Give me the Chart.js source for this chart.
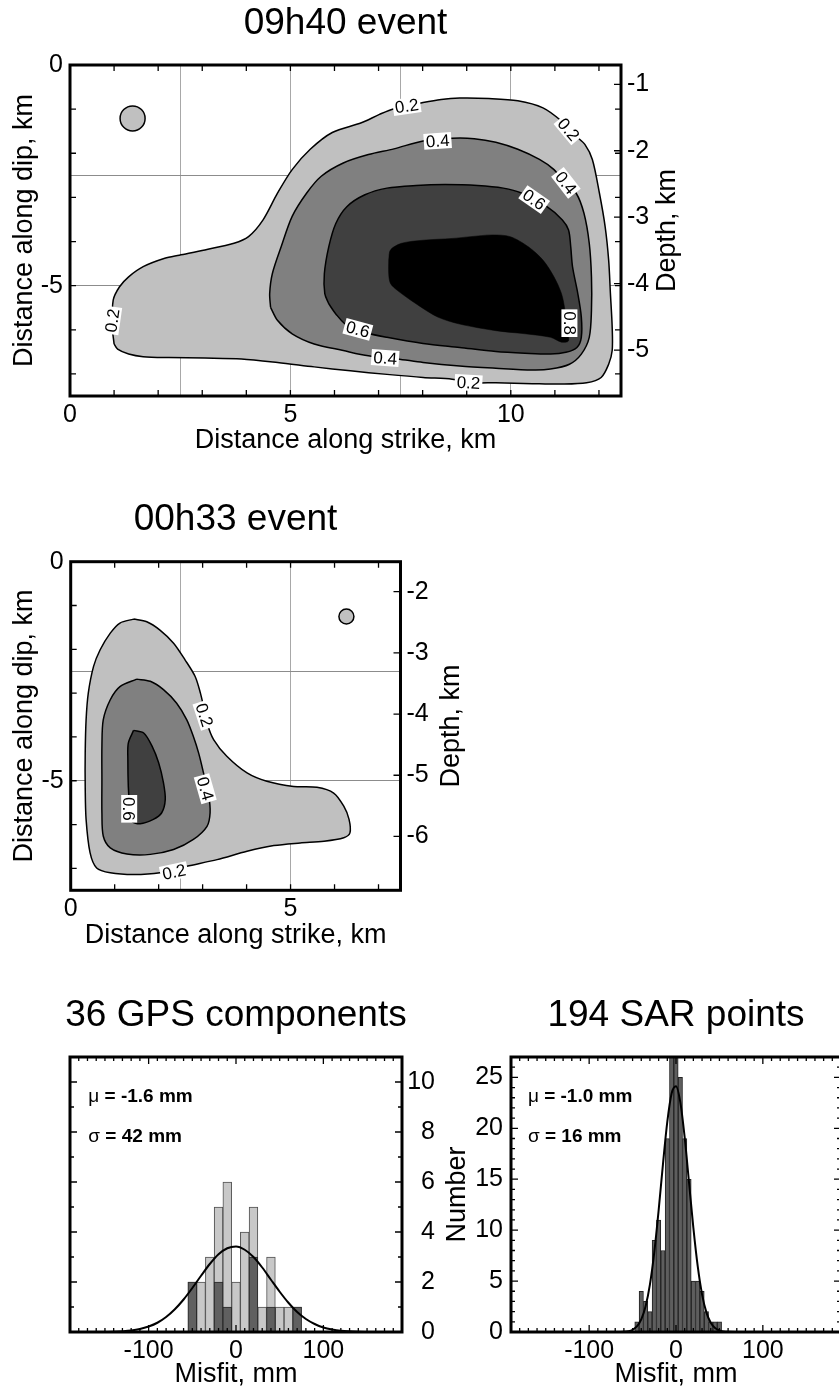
<!DOCTYPE html>
<html>
<head>
<meta charset="utf-8">
<title>Slip distribution and misfit</title>
<script src="https://cdn.jsdelivr.net/npm/chart.js@4.4.1/dist/chart.umd.min.js"></script>
<style>
  html, body { margin: 0; padding: 0; background: #fff; overflow: hidden; }
  #page { position: relative; width: 839px; height: 1391px; }
  canvas { position: absolute; }
</style>
</head>
<body>
<div id="page">
  <canvas id="ev0940" width="691" height="470" style="left:0;top:0"></canvas>
  <canvas id="ev0033" width="471" height="490" style="left:0;top:480px"></canvas>
  <canvas id="gps" width="435" height="431" style="left:0;top:960px"></canvas>
  <canvas id="sar" width="512" height="431" style="left:420px;top:960px"></canvas>
</div>
<script>
// ---- 09h40 event: slip contours on the fault plane, [km along strike, km along dip]
const ev0940Slip02 = [
  [1.00, -6.32], [0.96, -5.94], [0.98, -5.33], [1.12, -5.03], [1.33, -4.80], [1.66, -4.57],
  [2.15, -4.38], [2.48, -4.31], [3.06, -4.19], [3.72, -4.04], [4.05, -3.89], [4.38, -3.51],
  [4.71, -2.90], [5.04, -2.37], [5.45, -1.91], [5.95, -1.53], [6.61, -1.31], [7.02, -1.12],
  [7.35, -0.99], [8.01, -0.85], [8.42, -0.78], [8.84, -0.75], [9.50, -0.76], [10.16, -0.81],
  [10.73, -0.97], [11.15, -1.27], [11.48, -1.61], [11.68, -1.80], [11.85, -2.14], [12.01, -2.90],
  [12.14, -3.66], [12.22, -4.42], [12.26, -5.18], [12.30, -5.94], [12.30, -6.47], [12.22, -6.78],
  [12.05, -7.08], [11.72, -7.20], [11.15, -7.23], [10.49, -7.22], [9.66, -7.20], [9.17, -7.20],
  [8.67, -7.12], [8.01, -7.08], [7.19, -7.01], [6.36, -6.93], [5.54, -6.84], [4.71, -6.74],
  [3.89, -6.66], [3.06, -6.64], [2.24, -6.63], [1.66, -6.61], [1.33, -6.55], [1.08, -6.44]
];
const ev0940Slip04 = [
  [4.55, -5.49], [4.53, -5.18], [4.59, -4.73], [4.79, -4.12], [5.04, -3.43], [5.37, -2.90],
  [5.70, -2.52], [6.20, -2.22], [6.77, -2.03], [7.35, -1.90], [8.01, -1.72], [8.67, -1.66],
  [9.17, -1.67], [9.66, -1.75], [10.16, -1.91], [10.65, -2.14], [10.98, -2.37], [11.23, -2.67],
  [11.48, -2.90], [11.66, -3.36], [11.78, -4.04], [11.83, -4.80], [11.83, -5.56], [11.78, -6.17],
  [11.60, -6.55], [11.33, -6.78], [10.90, -6.89], [10.49, -6.91], [9.66, -6.87], [8.84, -6.82],
  [8.01, -6.74], [7.43, -6.66], [6.77, -6.59], [6.20, -6.47], [5.54, -6.32], [5.04, -6.09],
  [4.71, -5.79]
];
const ev0940Slip06 = [
  [5.87, -5.41], [5.78, -5.18], [5.77, -4.73], [5.87, -4.12], [6.03, -3.59], [6.28, -3.21],
  [6.69, -2.94], [7.19, -2.79], [7.85, -2.73], [8.51, -2.71], [9.25, -2.73], [9.83, -2.79],
  [10.24, -2.90], [10.82, -3.21], [11.17, -3.51], [11.31, -3.74], [11.36, -4.12], [11.40, -4.57],
  [11.52, -5.18], [11.60, -5.71], [11.60, -6.17], [11.50, -6.40], [11.25, -6.51], [10.90, -6.55],
  [10.32, -6.53], [9.66, -6.49], [8.84, -6.40], [8.01, -6.31], [7.19, -6.17], [6.69, -6.06],
  [6.28, -5.90], [6.03, -5.64]
];
const ev0940Slip08 = [
  [7.23, -4.42], [7.27, -4.19], [7.52, -4.04], [8.01, -3.97], [8.67, -3.93], [9.08, -3.89],
  [9.58, -3.85], [9.99, -3.89], [10.40, -4.12], [10.73, -4.42], [10.98, -4.80], [11.15, -5.18],
  [11.23, -5.56], [11.27, -5.94], [11.31, -6.25], [11.15, -6.28], [10.90, -6.17], [10.32, -6.09],
  [9.66, -6.02], [8.84, -5.87], [8.34, -5.71], [7.85, -5.41], [7.43, -5.11], [7.27, -4.95],
  [7.23, -4.73]
];
const ev0940Spot = [[1.42, -1.21]];
const ev0940DepthRange = [-5.69, -0.71];   // depth at the lower and upper edge of the plane

// ---- 00h33 event
const ev0033Slip02 = [
  [1.43, -1.31], [1.73, -1.37], [2.03, -1.56], [2.34, -1.86], [2.60, -2.24], [2.83, -2.62],
  [2.95, -3.00], [3.02, -3.30], [3.10, -3.68], [3.25, -4.06], [3.55, -4.44], [4.01, -4.82],
  [4.46, -5.01], [5.07, -5.13], [5.60, -5.15], [5.98, -5.28], [6.21, -5.58], [6.33, -5.88],
  [6.35, -6.19], [6.21, -6.30], [5.76, -6.38], [5.22, -6.42], [4.62, -6.48], [4.01, -6.61],
  [3.33, -6.80], [2.64, -6.95], [2.03, -7.10], [1.43, -7.14], [0.90, -7.10], [0.59, -6.99],
  [0.44, -6.64], [0.35, -5.88], [0.33, -5.13], [0.33, -4.37], [0.35, -3.61], [0.40, -3.00],
  [0.52, -2.39], [0.67, -2.01], [0.90, -1.63], [1.12, -1.40]
];
const ev0033Slip04 = [
  [1.50, -2.68], [1.81, -2.73], [2.11, -2.92], [2.41, -3.23], [2.64, -3.61], [2.79, -3.99],
  [2.91, -4.37], [3.02, -4.82], [3.14, -5.35], [3.17, -5.73], [3.10, -6.04], [2.79, -6.34],
  [2.34, -6.57], [1.81, -6.68], [1.28, -6.67], [0.90, -6.53], [0.74, -6.26], [0.71, -5.73],
  [0.71, -4.97], [0.71, -4.21], [0.74, -3.61], [0.90, -3.15], [1.12, -2.85]
];
const ev0033Slip06 = [
  [1.43, -3.85], [1.66, -3.91], [1.85, -4.21], [2.00, -4.59], [2.11, -5.05], [2.15, -5.43],
  [2.07, -5.73], [1.88, -5.88], [1.58, -5.98], [1.39, -5.92], [1.34, -5.58], [1.31, -5.13],
  [1.30, -4.52], [1.31, -4.14]
];
const ev0033Spot = [[6.27, -1.25]];
const ev0033DepthRange = [-6.88, -1.51];

const strikeTickLabels = [0, 5, 10];
const dipTickLabels = [0, -5];

// ---- misfit histograms
const gpsBins = [-50, -40, -30, -20, -10, 0, 10, 20, 30, 40, 50, 60, 70];
const gpsAll = [2, 2, 3, 5, 6, 2, 4, 5, 1, 3, 1, 1, 1];
const gpsVertical = [2, 0, 0, 2, 1, 0, 0, 3, 0, 1, 0, 0, 1];
const gpsFitX = [-190, -160, -140, -120, -110, -100, -90, -80, -70, -60, -50, -40, -30, -20, -10,
  0, 10, 20, 30, 40, 50, 60, 70, 80, 90, 100, 110, 120, 140, 160, 190];
const gpsFitY = [0, 0.003, 0.015, 0.064, 0.12, 0.22, 0.37, 0.60, 0.91, 1.30, 1.76, 2.25, 2.72, 3.11, 3.35,
  3.42, 3.29, 3.00, 2.58, 2.09, 1.61, 1.17, 0.80, 0.52, 0.32, 0.18, 0.10, 0.052, 0.012, 0.002, 0];
const gpsMean = -1.6, gpsSigma = 42;

const sarBins = [-45, -40, -35, -30, -25, -20, -15, -10, -5, 0, 5, 10, 15, 20, 25, 30, 35, 40, 45, 50];
const sarCounts = [1, 4, 3, 2, 9, 11, 8, 19, 30, 29, 25, 19, 15, 5, 5, 4, 2, 1, 1, 1];
const sarFitX = [-190, -80, -70, -60, -55, -50, -45, -40, -35, -30, -25, -20, -15, -10, -5,
  0, 5, 10, 15, 20, 25, 30, 35, 40, 45, 50, 55, 60, 70, 80, 190];
const sarFitY = [0, 0, 0.002, 0.027, 0.081, 0.22, 0.55, 1.24, 2.53, 4.68, 7.85, 11.95, 16.49, 20.65, 23.45,
  24.14, 22.55, 19.10, 14.67, 10.22, 6.46, 3.70, 1.93, 0.91, 0.39, 0.15, 0.053, 0.017, 0.002, 0, 0];
const sarMean = -1.0, sarSigma = 16;

const FONT = '"Liberation Sans", Arial, Helvetica, sans-serif';
Chart.defaults.font.family = FONT;
Chart.defaults.color = '#000';
Chart.defaults.animation = false;
Chart.defaults.plugins.legend.display = false;
Chart.defaults.plugins.tooltip.enabled = false;

const toXY = pts => pts.map(([x, y]) => ({x, y}));
const ring = pts => toXY(pts.concat([pts[0]]));
const zip = (xs, ys) => xs.map((x, i) => ({x, y: ys[i]}));

// thick frame with inward tick marks on every side
function frameTicks(cfg) {
  return {
    id: 'frameTicks',
    afterDraw(chart) {
      const {ctx, chartArea: a, scales} = chart;
      const marks = (scale, step, major, len, lenMajor, draw) => {
        const first = Math.ceil(scale.min / step - 1e-9);
        for (let i = first; i * step <= scale.max + 1e-9; i++) {
          const v = i * step;
          const isMajor = major && Math.abs(v / major - Math.round(v / major)) < 1e-6;
          draw(scale.getPixelForValue(v), isMajor ? lenMajor : len);
        }
      };
      ctx.save();
      ctx.strokeStyle = '#000';
      ctx.lineWidth = 1.3;
      ctx.beginPath();
      marks(scales.x, cfg.xStep, cfg.xMajor, cfg.len, cfg.lenMajor, (p, l) => {
        ctx.moveTo(p, a.bottom); ctx.lineTo(p, a.bottom - l);
        ctx.moveTo(p, a.top); ctx.lineTo(p, a.top + l);
      });
      marks(scales.y, cfg.yStep, cfg.yMajor, cfg.len, cfg.lenMajor, (p, l) => {
        ctx.moveTo(a.left, p); ctx.lineTo(a.left + l, p);
        if (cfg.mirrorY) { ctx.moveTo(a.right, p); ctx.lineTo(a.right - l, p); }
      });
      if (cfg.depthTicks) {
        marks(scales.y2, 1, 0, 7, 7, p => { ctx.moveTo(a.right, p); ctx.lineTo(a.right - 7, p); });
      }
      ctx.stroke();
      ctx.lineWidth = 3;
      ctx.strokeRect(a.left, a.top, a.right - a.left, a.bottom - a.top);
      ctx.restore();
    }
  };
}

// rotated title for the depth axis, reading bottom to top
function sideTitle(text, gap) {
  return {
    id: 'sideTitle',
    afterDraw(chart) {
      const {ctx, chartArea: a} = chart;
      ctx.save();
      ctx.translate(a.right + gap, (a.top + a.bottom) / 2);
      ctx.rotate(-Math.PI / 2);
      ctx.font = '27px ' + FONT;
      ctx.fillStyle = '#000';
      ctx.textAlign = 'center';
      ctx.textBaseline = 'middle';
      ctx.fillText(text, 0, 0);
      ctx.restore();
    }
  };
}

// contour level labels on white boxes
function contourLabels(items) {
  return {
    id: 'contourLabels',
    afterDraw(chart) {
      const {ctx, scales: {x, y}} = chart;
      ctx.save();
      ctx.font = '17px ' + FONT;
      ctx.textAlign = 'center';
      ctx.textBaseline = 'middle';
      for (const [text, vx, vy, deg] of items) {
        const w = ctx.measureText(text).width + 4;
        ctx.save();
        ctx.translate(x.getPixelForValue(vx), y.getPixelForValue(vy));
        ctx.rotate(deg * Math.PI / 180);
        ctx.fillStyle = '#fff';
        ctx.fillRect(-w / 2, -8, w, 16);
        ctx.fillStyle = '#000';
        ctx.fillText(text, 0, 1);
        ctx.restore();
      }
      ctx.restore();
    }
  };
}

// mean and standard deviation printed inside the histogram
function statsText(mean, sigma, at) {
  return {
    id: 'statsText',
    afterDraw(chart) {
      const {ctx, scales: {x, y}} = chart;
      const rows = [['\u03bc', ' = ' + mean.toFixed(1) + ' mm', at[1]], ['\u03c3', ' = ' + sigma + ' mm', at[2]]];
      ctx.save();
      ctx.fillStyle = '#000';
      ctx.textAlign = 'left';
      ctx.textBaseline = 'middle';
      for (const [sym, rest, vy] of rows) {
        const px = x.getPixelForValue(at[0]), py = y.getPixelForValue(vy);
        ctx.font = '19px ' + FONT;
        ctx.fillText(sym, px, py);
        const w = ctx.measureText(sym).width;
        ctx.font = 'bold 19px ' + FONT;
        ctx.fillText(rest, px + w, py);
      }
      ctx.restore();
    }
  };
}

function slipMap(canvasId, o) {
  const shades = ['#c0c0c0', '#808080', '#404040', '#000000'];
  const datasets = o.levels.map((pts, i) => ({
    data: ring(pts),
    showLine: true,
    fill: 'shape',
    backgroundColor: shades[i],
    borderColor: '#000',
    borderWidth: i === 3 ? 0.5 : 1.5,
    pointRadius: 0,
    tension: 0.3,
    order: 10 - i
  }));
  datasets.push({
    data: toXY(o.spot),
    showLine: false,
    pointRadius: o.spotRadius,
    pointBackgroundColor: '#c0c0c0',
    pointBorderColor: '#000',
    pointBorderWidth: 1.5,
    order: 0
  });

  return new Chart(document.getElementById(canvasId), {
    type: 'scatter',
    data: {datasets},
    options: {
      responsive: false,
      layout: {padding: 0},
      plugins: {
        title: {display: true, text: o.title, font: {size: 37, weight: 'normal'}, padding: o.titlePad}
      },
      scales: {
        x: {
          type: 'linear', min: 0, max: o.xMax, z: 1,
          ticks: {stepSize: 2.5, autoSkip: false, maxRotation: 0, padding: 4, font: {size: 25},
                  callback: v => strikeTickLabels.includes(v) ? v : ''},
          grid: {color: '#a8a8a8', lineWidth: 1, drawTicks: false},
          border: {display: false},
          title: {display: true, text: 'Distance along strike, km', font: {size: 27},
                  padding: {top: 0, bottom: o.xTitlePad}},
          afterFit: s => { s.height = o.bottomH; }
        },
        y: {
          type: 'linear', position: 'left', min: -7.5, max: 0, z: 1,
          ticks: {stepSize: 2.5, autoSkip: false, padding: 7, font: {size: 25},
                  callback: v => dipTickLabels.includes(v) ? v : ''},
          grid: {color: '#8c8c8c', lineWidth: 1, drawTicks: false},
          border: {display: false},
          title: {display: true, text: 'Distance along dip, km', font: {size: 27}, padding: {top: 8.8, bottom: 0}},
          afterFit: s => { s.width = o.leftW; }
        },
        y2: {
          type: 'linear', position: 'right', min: o.depth[0], max: o.depth[1],
          ticks: {stepSize: 1, includeBounds: false, autoSkip: false, padding: 6, font: {size: 25}},
          grid: {display: false, drawTicks: false},
          border: {display: false},
          afterFit: s => { s.width = o.rightW; }
        }
      }
    },
    plugins: [
      frameTicks({xStep: 1, yStep: 1, len: 6, lenMajor: 6, mirrorY: o.mirrorY, depthTicks: true}),
      sideTitle('Depth, km', o.depthGap),
      contourLabels(o.labels)
    ]
  });
}

function misfitHist(canvasId, o) {
  const barStyle = {type: 'bar', borderWidth: 1, borderSkipped: false, grouped: false,
                    barPercentage: 1, categoryPercentage: 1};
  const datasets = [
    {type: 'line', data: zip(o.fitX, o.fitY), borderColor: '#000', borderWidth: 2, pointRadius: 0,
     cubicInterpolationMode: 'monotone', fill: false, order: 0}
  ];
  o.series.forEach((s, i) => datasets.push(Object.assign({}, barStyle, {
    data: zip(o.bins, s.counts), backgroundColor: s.color, borderColor: s.edge, order: i + 1
  })));

  return new Chart(document.getElementById(canvasId), {
    type: 'bar',
    data: {datasets},
    options: {
      responsive: false,
      layout: {padding: {left: o.padLeft, right: 0, top: 0, bottom: 0}},
      plugins: {
        title: {display: true, text: o.title, font: {size: 37, weight: 'normal'}, padding: {top: 33.8, bottom: 18.8}}
      },
      scales: {
        x: {
          type: 'linear', min: -190, max: 190, offset: false,
          ticks: {stepSize: 100, includeBounds: false, autoSkip: false, maxRotation: 0, padding: 4, font: {size: 25}},
          grid: {display: false, drawTicks: false},
          border: {display: false},
          title: {display: true, text: 'Misfit, mm', font: {size: 27}, padding: {top: 0, bottom: 0}},
          afterFit: s => { s.height = 59; }
        },
        y: {
          type: 'linear', position: 'left', min: 0, max: o.yMax,
          ticks: o.leftLabels
            ? {stepSize: o.yLabelStep, includeBounds: false, padding: 8, font: {size: 25}}
            : {display: false},
          grid: {display: false, drawTicks: false},
          border: {display: false},
          title: {display: !!o.yTitle, text: o.yTitle || '', font: {size: 27}, padding: {top: 21.8, bottom: 0}},
          afterFit: s => { s.width = o.sideW; }
        },
        y2: {
          type: 'linear', position: 'right', min: 0, max: o.yMax,
          ticks: o.leftLabels
            ? {display: false}
            : {stepSize: o.yLabelStep, includeBounds: false, crossAlign: 'far', padding: 5, font: {size: 25}},
          grid: {display: false, drawTicks: false},
          border: {display: false},
          afterFit: s => { s.width = o.sideW; }
        }
      }
    },
    plugins: [
      frameTicks({xStep: 10, xMajor: 100, yStep: 1, yMajor: o.yLabelStep, len: 4, lenMajor: 7, mirrorY: true}),
      statsText(o.mean, o.sigma, o.statsAt)
    ]
  });
}

slipMap('ev0940', {
  title: '09h40 event',
  titlePad: {top: 2, bottom: 18.6},
  levels: [ev0940Slip02, ev0940Slip04, ev0940Slip06, ev0940Slip08],
  spot: ev0940Spot, spotRadius: 12.5,
  depth: ev0940DepthRange,
  xMax: 12.5, leftW: 70, rightW: 70, bottomH: 74, xTitlePad: 12.8,
  mirrorY: true, depthGap: 47,
  labels: [
    ['0.2', 7.64, -0.93, -8], ['0.2', 11.31, -1.46, 50], ['0.4', 8.34, -1.72, -4],
    ['0.4', 11.25, -2.67, 52], ['0.6', 10.53, -3.05, 35], ['0.8', 11.33, -5.85, 90],
    ['0.6', 6.53, -5.99, 15], ['0.4', 7.15, -6.64, 4], ['0.2', 9.04, -7.20, 3],
    ['0.2', 0.96, -5.79, -82]
  ]
});

slipMap('ev0033', {
  title: '00h33 event',
  titlePad: {top: 17.8, bottom: 19.5},
  levels: [ev0033Slip02, ev0033Slip04, ev0033Slip06],
  spot: ev0033Spot, spotRadius: 7.5,
  depth: ev0033DepthRange,
  xMax: 7.5, leftW: 70.7, rightW: 70.5, bottomH: 79.7, xTitlePad: 18.3,
  mirrorY: false, depthGap: 51,
  labels: [
    ['0.2', 3.04, -3.50, 72], ['0.4', 3.06, -5.18, 74], ['0.6', 1.33, -5.64, 90],
    ['0.2', 2.35, -7.08, -12]
  ]
});

misfitHist('gps', {
  title: '36 GPS components',
  bins: gpsBins,
  series: [
    {counts: gpsVertical, color: '#606060', edge: '#2a2a2a'},
    {counts: gpsAll, color: '#c8c8c8', edge: '#505050'}
  ],
  fitX: gpsFitX, fitY: gpsFitY,
  yMax: 11, yLabelStep: 2, leftLabels: false, sideW: 33, padLeft: 37,
  mean: gpsMean, sigma: gpsSigma, statsAt: [-169, 9.4, 7.8]
});

misfitHist('sar', {
  title: '194 SAR points',
  bins: sarBins,
  series: [{counts: sarCounts, color: '#5e5e5e', edge: '#222'}],
  fitX: sarFitX, fitY: sarFitY,
  yMax: 27, yLabelStep: 5, leftLabels: true, yTitle: 'Number', sideW: 91, padLeft: 0,
  mean: sarMean, sigma: sarSigma, statsAt: [-170.5, 23.1, 19.2]
});
</script>
</body>
</html>
